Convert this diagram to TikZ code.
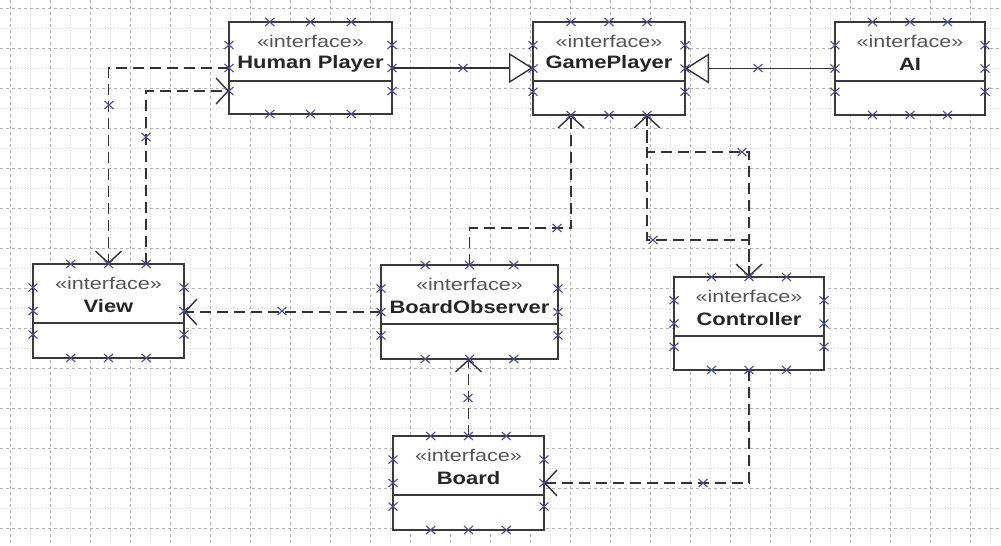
\documentclass[tikz,border=0pt]{standalone}
\usepackage{fontspec}
\usepackage{graphicx}
\setmainfont{Liberation Sans}
\usetikzlibrary{arrows.meta,calc}
\definecolor{linec}{HTML}{333333}
\definecolor{boxc}{HTML}{3A3A3A}
\definecolor{markc}{HTML}{4A4A8C}
\definecolor{gridc}{HTML}{B0B0B0}
\definecolor{gridm}{HTML}{D4D4D4}
\definecolor{stereoc}{HTML}{555555}
\newcommand\stx[1]{\scalebox{1.27}[1]{#1}}
\newcommand\nmx[1]{\scalebox{1.22}[1]{#1}}
\newcommand\umlclass[6]{% name, left, top, width, height, title
  \node[classbox, minimum width=#4pt, minimum height=#5pt] (#1) at (#2,#3) {};
  \draw[divider] ($(#1.north west)+(0,59)$) -- ($(#1.north east)+(0,59)$);
  \node[stereo] (#1-st) at ($(#1.north)+(0,19)$) {\stx{«interface»}};
  \node[cname] (#1-nm) at ($(#1.north)+(0,42)$) {\nmx{#6}};
}
\newcommand\boxmarks[1]{%
  \foreach \f in {0.25,0.5,0.75}{
    \pic at ($(#1.north west)!\f!(#1.north east)$) {xm};
    \pic at ($(#1.south west)!\f!(#1.south east)$) {xm};
    \pic at ($(#1.north west)!\f!(#1.south west)$) {xm};
    \pic at ($(#1.north east)!\f!(#1.south east)$) {xm};
  }
}
\begin{document}
\begin{tikzpicture}[x=1pt,y=-1pt,
  classbox/.style={draw=boxc, line width=2pt, fill=white, anchor=north west, inner sep=0pt, outer sep=0pt},
  stereo/.style={font=\fontsize{17}{19}\selectfont, text=stereoc, inner sep=0pt},
  cname/.style={font=\bfseries\fontsize{18}{20}\selectfont, text=black!85, inner sep=0pt},
  divider/.style={draw=boxc, line width=2pt},
  conn/.style={draw=linec, line width=1.6pt},
  dep/.style={conn, dash pattern=on 11pt off 6pt, -{Straight Barb[length=12pt,width=26pt,line width=1.4pt]}},
  real/.style={conn, -{Triangle[length=24pt,width=30pt,fill=white,line width=1.4pt]}},
  gridmajor/.style={draw=gridc, line width=0.8pt, dash pattern=on 3pt off 3pt},
  gridminor/.style={draw=gridm, line width=0.6pt, dash pattern=on 1pt off 2pt},
  xm/.pic={\draw[markc, line width=1.1pt] (-4.5,-4) -- (4.5,4) (-4.5,4) -- (4.5,-4);},
]
\fill[white] (0,0) rectangle (1001,546);
\useasboundingbox (0,0) rectangle (1001,546);
% grid
\foreach \x in {30,70,...,990} \draw[gridminor] (\x,0) -- (\x,546);
\foreach \y in {28,68,...,546} \draw[gridminor] (0,\y) -- (1001,\y);
\foreach \x in {10,50,...,970} \draw[gridmajor] (\x,0) -- (\x,546);
\foreach \y in {8,48,...,528} \draw[gridmajor] (0,\y) -- (1001,\y);
% classes
\umlclass{hp}{229}{22}{163}{92}{Human Player}
\umlclass{gp}{533}{22}{152}{93}{GamePlayer}
\umlclass{ai}{835}{22}{150}{93}{AI}
\umlclass{view}{33}{264}{151}{94}{View}
\umlclass{bo}{381}{265}{177}{94}{BoardObserver}
\umlclass{ctrl}{674}{277}{150}{93}{Controller}
\umlclass{board}{393}{436}{151}{94}{Board}
% helper coordinates
\coordinate (g1) at ($(gp.south west)!0.25!(gp.south east)$);
\coordinate (g3) at ($(gp.south west)!0.75!(gp.south east)$);
\coordinate (v3) at ($(view.north west)!0.75!(view.north east)$);
\coordinate (h3) at ($(hp.north west)!0.75!(hp.south west)$);
\coordinate (yT) at (0,152);
\coordinate (yB) at (0,240);
\coordinate (yBO) at (0,228);
% realizations
\draw[real] (hp.east) -- (gp.west |- hp.east);
\draw[real] (ai.west) -- (gp.east |- ai.west);
% dependencies
\draw[dep] (hp.west) -| (view.north);
\draw[dep] (v3) |- (h3);
\draw[dep] (bo.west) -- (view.east |- bo.west);
\draw[dep] (bo.north) -- (bo.north |- yBO) -| (g1);
\draw[dep] (ctrl.north) -- (ctrl.north |- yB) -| (g3);
\draw[dep] (g3) -- (g3 |- yT) -| (ctrl.north);
\draw[dep] (board.north) -- (board.north |- bo.south);
\draw[dep] (ctrl.south) |- (board.east);
% markers
\boxmarks{hp}
\boxmarks{gp}
\boxmarks{ai}
\boxmarks{view}
\boxmarks{bo}
\boxmarks{ctrl}
\boxmarks{board}
\foreach \p in {(463,68),(758,68),(109,105),(146,137),(282,311),(557,228),(653,240),(742,152),(468,398),(703,483)}
  \pic at \p {xm};
\end{tikzpicture}
\end{document}
